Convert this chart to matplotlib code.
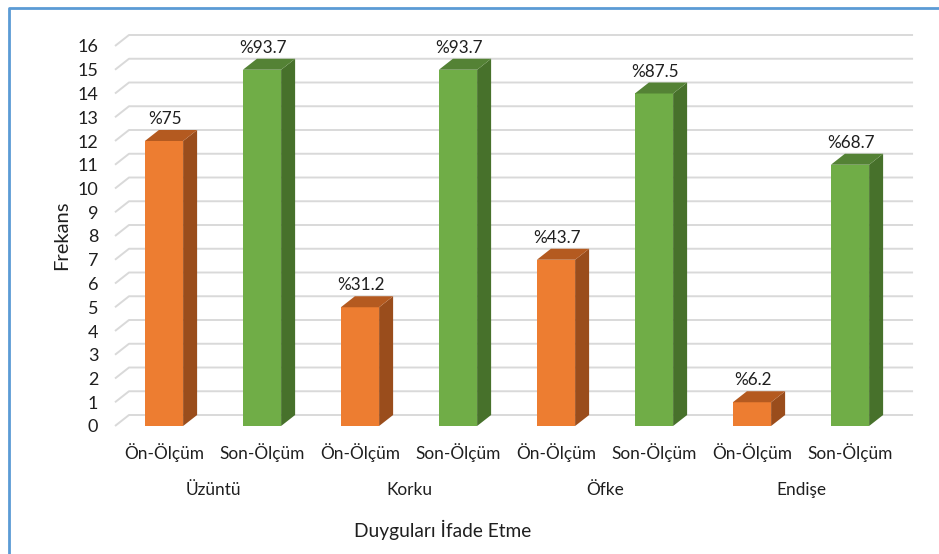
import matplotlib
matplotlib.use("Agg")
import matplotlib.pyplot as plt
from matplotlib.patches import Polygon
from matplotlib.lines import Line2D
import matplotlib.transforms as mtransforms

plt.rcParams['font.family'] = ['Lato', 'DejaVu Sans']

# Frequencies of expressing each emotion, before and after the programme
categories = ["Üzüntü", "Korku", "Öfke", "Endişe"]
series_names = ["Ön-Ölçüm", "Son-Ölçüm"]
on_olcum = [12, 5, 7, 1]
son_olcum = [15, 15, 14, 11]
on_pct = ["%75", "%31.2", "%43.7", "%6.2"]
son_pct = ["%93.7", "%93.7", "%87.5", "%68.7"]
y_ticks = list(range(0, 17))

TEXT = '#1f1f1f'
GRID = '#d9d9d9'
faces = {
    "Ön-Ölçüm": ('#ed7d31', '#b45a20', '#9a4d1c'),
    "Son-Ölçüm": ('#70ad47', '#548235', '#47712b'),
}

W, H = 939, 554
fig = plt.figure(figsize=(W / 100, H / 100), dpi=100)

# axes placed in pixel terms: x from 115 to 915, y from 426 (zero) up to 32
left, right, bottom, top = 115, 915, 426, 32
ax = fig.add_axes([left / W, 1 - bottom / H, (right - left) / W, (bottom - top) / H])
px_per_x = 98.0
px_per_y = 23.75
xmin = -0.5
xmax = xmin + (right - left) / px_per_x
ymax = (bottom - top) / px_per_y
ax.set_xlim(xmin, xmax)
ax.set_ylim(0, ymax)

# depth of the fake 3D extrusion, in data units
dx = 14 / px_per_x
dy = 11 / px_per_y
bw = 0.39

# back-wall gridlines with the slanted floor edge
for v in y_ticks:
    ax.plot([xmin, xmin + dx, xmax - 0.02], [v, v + dy, v + dy], color=GRID, lw=1.4,
            zorder=1, solid_capstyle='butt', clip_on=False)

xs, vals, pcts, keys = [], [], [], []
for i in range(len(categories)):
    for j, (vals_s, pct_s, name) in enumerate([(on_olcum, on_pct, series_names[0]),
                                                (son_olcum, son_pct, series_names[1])]):
        xs.append(2 * i + j)
        vals.append(vals_s[i])
        pcts.append(pct_s[i])
        keys.append(name)

for x, v, p, k in zip(xs, vals, pcts, keys):
    front, topc, side = faces[k]
    ax.bar(x, v, width=bw, color=front, edgecolor='none', zorder=3)
    x0, x1 = x - bw / 2, x + bw / 2
    ax.add_patch(Polygon([(x1, 0), (x1 + dx, dy), (x1 + dx, v + dy), (x1, v)],
                         closed=True, facecolor=side, edgecolor='none', zorder=3))
    ax.add_patch(Polygon([(x0, v), (x1, v), (x1 + dx, v + dy), (x0 + dx, v + dy)],
                         closed=True, facecolor=topc, edgecolor='none', zorder=3))
    ax.annotate(p, (x + 0.01, v + dy), xytext=(0, 2), textcoords='offset points',
                ha='center', va='bottom', fontsize=12.3, color=TEXT, zorder=4)

ax.set_xticks(xs, [keys[n] for n in range(len(xs))])
ax.set_yticks(y_ticks, [str(t) for t in y_ticks])
ax.tick_params(axis='x', length=0, pad=12, labelsize=12.4, labelcolor=TEXT)
ax.tick_params(axis='y', length=0, pad=12, labelsize=13, labelcolor=TEXT)
for s in ax.spines.values():
    s.set_visible(False)

# category names under each pair of bars
trans = mtransforms.blended_transform_factory(ax.transData, fig.transFigure)
for i, c in enumerate(categories):
    ax.text(2 * i + 0.5, 1 - 490 / H, c, transform=trans, ha='center', va='center',
            fontsize=12.4, color=TEXT)

fig.text(443 / W, 1 - 530 / H, "Duyguları İfade Etme", ha='center', va='center',
         fontsize=13.8, color=TEXT)
fig.text(62 / W, 1 - 235 / H, "Frekans", ha='center', va='center', rotation=90,
         fontsize=14.5, color=TEXT)

# blue chart frame along the top and left edges
fig.add_artist(Line2D([8.5 / W, 8.5 / W, 1.0], [0.0, 1 - 7.5 / H, 1 - 7.5 / H],
                      transform=fig.transFigure, color='#5b9bd5', lw=2.0))

fig.savefig("out.png", dpi=100)
